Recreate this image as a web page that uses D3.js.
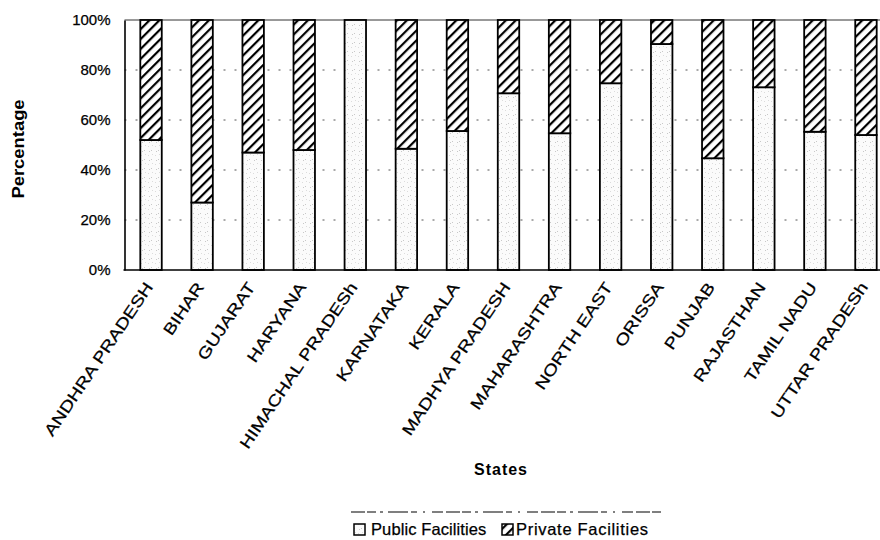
<!DOCTYPE html>
<html>
<head>
<meta charset="utf-8">
<script src="https://cdn.jsdelivr.net/npm/d3@7"></script>
<style>
  html, body { margin: 0; padding: 0; background: #fff; }
  svg { display: block; }
  text { font-family: "Liberation Sans", Arial, sans-serif; fill: #000; }
  .heavy { stroke: #000; stroke-width: 0.25px; }
</style>
</head>
<body>
<svg id="chart" width="880" height="540"></svg>
<script>
// Share of deliveries by facility type, per state (percent)
const states = [
  "ANDHRA PRADESH", "BIHAR", "GUJARAT", "HARYANA", "HIMACHAL PRADESh",
  "KARNATAKA", "KERALA", "MADHYA PRADESH", "MAHARASHTRA", "NORTH EAST",
  "ORISSA", "PUNJAB", "RAJASTHAN", "TAMIL NADU", "UTTAR PRADESh"
];
const publicShare  = [52, 27, 47, 48, 100, 48.5, 55.6, 70.7, 54.7, 74.7, 90.4, 44.7, 73.1, 55.3, 54];
const privateShare = publicShare.map(v => 100 - v);
const yTicks = [0, 20, 40, 60, 80, 100];
const seriesNames = ["Public Facilities", "Private Facilities"];

const svg = d3.select("#chart");

// fills: light stipple for public, diagonal hatch for private
const defs = svg.append("defs");
const stip = defs.append("pattern")
  .attr("id", "stipple").attr("patternUnits", "userSpaceOnUse")
  .attr("width", 7).attr("height", 9);
stip.append("rect").attr("width", 7).attr("height", 9).attr("fill", "#fbfbfb");
[[1, 2], [4, 6], [5, 1], [2, 7]].forEach(([cx, cy], i) =>
  stip.append("rect").attr("x", cx).attr("y", cy).attr("width", 1).attr("height", 1)
    .attr("fill", i % 2 ? "#c8c8c8" : "#dcdcdc"));

const hatch = defs.append("pattern")
  .attr("id", "hatch").attr("patternUnits", "userSpaceOnUse")
  .attr("width", 7).attr("height", 7)
  .attr("patternTransform", "rotate(45)");
hatch.append("rect").attr("width", 7).attr("height", 7).attr("fill", "#fff");
hatch.append("line").attr("x1", 1).attr("y1", 0).attr("x2", 1).attr("y2", 7)
  .attr("stroke", "#000").attr("stroke-width", 2.4);

const plotLeft = 124.5, plotTop = 20, plotBottom = 270, plotRight = 891.5;

const x = d3.scaleBand().domain(states).range([plotLeft + 1, plotRight])
  .paddingInner(0.58).paddingOuter(0.29);
const y = d3.scaleLinear().domain([0, 100]).range([plotBottom, plotTop]);

// dotted gridlines
svg.append("g").selectAll("line")
  .data(yTicks.filter(t => t > 0 && t < 100))
  .join("line")
  .attr("x1", plotLeft).attr("x2", 880)
  .attr("y1", d => y(d)).attr("y2", d => y(d))
  .attr("stroke", "#555").attr("stroke-width", 1)
  .attr("stroke-dasharray", "2,9");

// plot-area top edge
svg.append("line").attr("x1", plotLeft).attr("x2", 880)
  .attr("y1", y(100)).attr("y2", y(100))
  .attr("stroke", "#333").attr("stroke-width", 1);

// stacked bars
const rows = states.map((s, i) => ({ state: s, pub: publicShare[i], pri: privateShare[i] }));
const bars = svg.append("g");
bars.selectAll("rect.pub").data(rows).join("rect")
  .attr("class", "pub")
  .attr("x", d => x(d.state)).attr("width", x.bandwidth())
  .attr("y", d => y(d.pub)).attr("height", d => y(0) - y(d.pub))
  .attr("fill", "url(#stipple)").attr("stroke", "#000").attr("stroke-width", 1.8);
bars.selectAll("rect.pri").data(rows.filter(d => d.pri > 0)).join("rect")
  .attr("class", "pri")
  .attr("x", d => x(d.state)).attr("width", x.bandwidth())
  .attr("y", d => y(100)).attr("height", d => y(d.pub) - y(100))
  .attr("fill", "url(#hatch)").attr("stroke", "#000").attr("stroke-width", 1.8);

// x baseline
svg.append("line").attr("x1", plotLeft - 1).attr("x2", 880)
  .attr("y1", y(0)).attr("y2", y(0))
  .attr("stroke", "#000").attr("stroke-width", 1.6);

// y axis
const yAxis = svg.append("g").attr("transform", `translate(${plotLeft},0)`)
  .call(d3.axisLeft(y).tickValues(yTicks).tickFormat(d => d + "%")
    .tickSize(0).tickSizeOuter(0).tickPadding(14));
yAxis.select(".domain").attr("stroke", "#000").attr("stroke-width", 1.6);
yAxis.selectAll("text").attr("class", "heavy").style("font-size", "15px")
  .style("font-family", "'Liberation Sans', Arial, sans-serif");

// category labels, slanted
svg.append("g").selectAll("text").data(states).join("text")
  .attr("class", "heavy")
  .attr("transform", d => `translate(${x(d) + x.bandwidth() / 2 - 2},${plotBottom + 14}) rotate(-56) scale(1.22,1)`)
  .attr("text-anchor", "end").attr("dy", "0.35em")
  .style("font-size", "16px")
  .text(d => d);

// axis titles
svg.append("text")
  .attr("transform", "translate(18,149) rotate(-90) scale(1.15,1)")
  .attr("text-anchor", "middle").attr("dy", "0.35em")
  .style("font-size", "16px").style("font-weight", "bold")
  .text("Percentage");
svg.append("text")
  .attr("x", 501).attr("y", 475)
  .attr("text-anchor", "middle")
  .style("font-size", "16px").style("font-weight", "bold").style("letter-spacing", "1px")
  .text("States");

// legend
const legend = svg.append("g");
legend.append("line").attr("x1", 351).attr("x2", 662).attr("y1", 512).attr("y2", 512)
  .attr("stroke", "#555").attr("stroke-width", 1.5)
  .attr("stroke-dasharray", "14,2,9,4,3,5,20,3,6,6,2,7,11,3");
const legendItems = [
  { name: seriesNames[0], fill: "url(#stipple)", bx: 354, tx: 371, ls: 0.1 },
  { name: seriesNames[1], fill: "url(#hatch)", bx: 502, tx: 516, ls: 0.7 }
];
legendItems.forEach(it => {
  legend.append("rect").attr("x", it.bx).attr("y", 524).attr("width", 11).attr("height", 11)
    .attr("fill", it.fill).attr("stroke", "#000").attr("stroke-width", 1.5);
  legend.append("text").attr("x", it.tx).attr("y", 534.5)
    .attr("class", "heavy")
    .style("font-size", "16.5px").style("letter-spacing", it.ls + "px").text(it.name);
});
</script>
</body>
</html>
